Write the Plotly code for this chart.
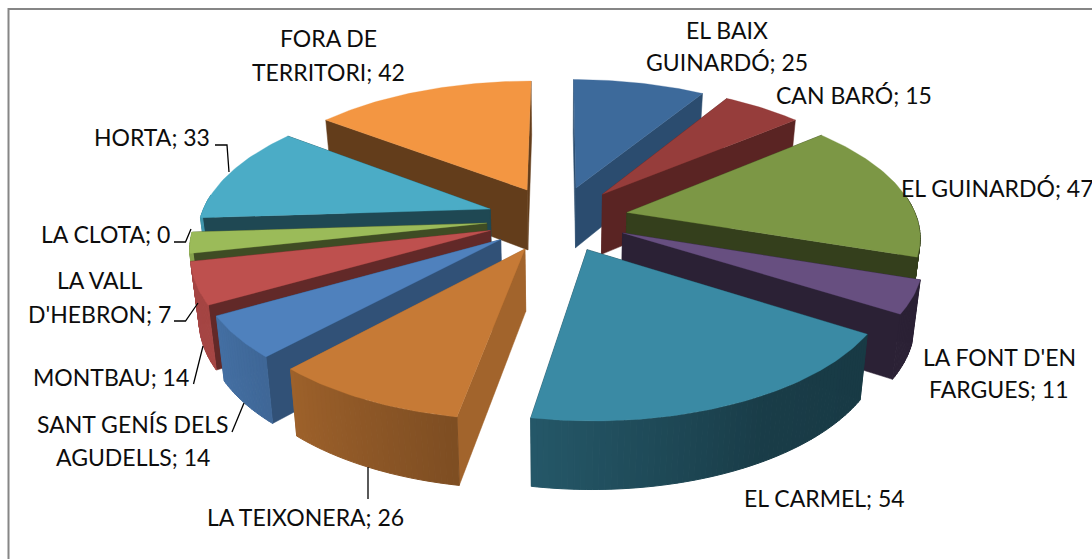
import numpy as np
import plotly.graph_objects as go

# ---- data ----
categories = ["EL BAIX GUINARDÓ", "CAN BARÓ", "EL GUINARDÓ", "LA FONT D'EN FARGUES", "EL CARMEL",
              "LA TEIXONERA", "SANT GENÍS DELS AGUDELLS", "MONTBAU", "LA VALL D'HEBRON",
              "LA CLOTA", "HORTA", "FORA DE TERRITORI"]
values = [25, 15, 47, 11, 54, 26, 14, 14, 7, 0, 33, 42]

# ---- style ----
top_colors = ["#3D6A9B", "#963D3B", "#7C9745", "#674F80", "#3A8AA4", "#C67A36",
              "#4F81BD", "#BE504E", "#9BBB59", "#8064A2", "#4BACC6", "#F39642"]
radial_shade = [0.72, 0.60, 0.42, 0.42, 0.42, 0.82, 0.63, 0.52, 0.41, 0.42, 0.42, 0.41]

# ---- projection settings ----
CX, CY, A, B, K = 557.5, 218.5, 290.0, 134.0, 0.155
EXPLODE = 0.245
LEAN = 0.977


def project(X, Y, bottom=False):
    w = 1 + K * Y
    sx = CX + A * X / w
    sy = CY - B * Y / w
    if bottom:
        sx = CX + (sx - CX) * LEAN
        sy = sy + (61.2 - 6.0 * Y)
    return sx, sy


def hex_shade(col, f):
    r, g, b = [int(col[i:i + 2], 16) for i in (1, 3, 5)]
    return f"rgb({int(r * f)},{int(g * f)},{int(b * f)})"


def arc_shade(theta):
    return float(np.interp(theta, [0, 100, 122, 150, 190, 222, 240, 270, 360],
                           [0.8, 0.42, 0.42, 0.44, 0.64, 0.8, 0.87, 0.88, 0.8]))


def poly(fig, xs, ys, color, lw=0.5):
    fig.add_trace(go.Scatter(x=list(xs) + [xs[0]], y=list(ys) + [ys[0]], mode="lines", fill="toself",
                             fillcolor=color, line=dict(color=color, width=lw),
                             hoverinfo="skip", showlegend=False))


fig = go.Figure()

total = sum(values)
edges = np.cumsum([0] + values) / total * 360.0
slices = []
for i, v in enumerate(values):
    if v == 0:
        continue
    t0, t1 = edges[i], edges[i + 1]
    m = np.radians((t0 + t1) / 2)
    ox, oy = EXPLODE * np.sin(m), EXPLODE * np.cos(m)
    slices.append((oy, i, t0, t1, ox))

for oy, i, t0, t1, ox in sorted(slices, key=lambda s: -s[0]):
    col = top_colors[i]
    th = np.radians(np.linspace(t0, t1, max(int(t1 - t0), 2) + 1))
    rx, ry = ox + np.sin(th), oy + np.cos(th)
    walls = []
    for a in (th[0], th[-1]):
        ex, ey = ox + np.sin(a), oy + np.cos(a)
        lx = np.linspace(ox, ex, 12)
        ly = np.linspace(oy, ey, 12)
        walls.append((np.mean(ly), lx, ly, hex_shade(col, radial_shade[i]), 0.5))
    for j in range(len(th) - 1):
        if np.cos(th[j]) > 0.1 and np.cos(th[j + 1]) > 0.1:
            continue  # back of the rim, hidden by the top face
        walls.append((np.mean(ry[j:j + 2]), rx[j:j + 2], ry[j:j + 2],
                      hex_shade(col, arc_shade(np.degrees(th[j]))), 1.0))
    for _, wx, wy, c, lw in sorted(walls, key=lambda w: -w[0]):
        x1, y1 = project(wx, wy)
        x2, y2 = project(wx, wy, bottom=True)
        poly(fig, np.r_[x1, x2[::-1]], np.r_[y1, y2[::-1]], c, lw)
    tx, ty = project(np.r_[ox, rx], np.r_[oy, ry])
    poly(fig, tx, ty, col, 0.3)

# ---- labels ----
label_lines = [
    ("EL BAIX", 727, 30), ("GUINARDÓ; 25", 727, 62), ("CAN BARÓ; 15", 854, 95),
    ("EL GUINARDÓ; 47", 997, 188), ("LA FONT D'EN", 999, 357), ("FARGUES; 11", 999, 389),
    ("EL CARMEL; 54", 824, 498), ("LA TEIXONERA; 26", 305, 517), ("SANT GENÍS DELS", 133, 424),
    ("AGUDELLS; 14", 133, 457), ("MONTBAU; 14", 111, 377), ("LA VALL", 99, 280),
    ("D'HEBRON; 7", 99, 314), ("LA CLOTA; 0", 105, 234), ("HORTA; 33", 152, 137),
    ("FORA DE", 328, 38), ("TERRITORI; 42", 328, 72),
]
for text, x, y in label_lines:
    fig.add_annotation(x=x, y=y, text=text, showarrow=False, xanchor="center", yanchor="middle",
                       font=dict(family="Lato, Carlito, sans-serif", size=23, color="#0d0d0d"))

leaders = [
    [(215, 145), (227, 145), (229, 172)],
    [(174, 242), (185.5, 242), (191, 229)],
    [(174, 321), (185.5, 321), (198, 303)],
    [(193.5, 384), (203, 346)],
    [(232, 432), (244, 403)],
    [(368, 467), (368, 499)],
]
for pts in leaders:
    fig.add_trace(go.Scatter(x=[p[0] for p in pts], y=[p[1] for p in pts], mode="lines",
                             line=dict(color="#000000", width=1.3), hoverinfo="skip", showlegend=False))

fig.add_shape(type="rect", x0=8.5, y0=9, x1=1300, y1=800, line=dict(color="#868686", width=2),
              fillcolor="rgba(0,0,0,0)", layer="below")

fig.update_layout(
    width=1092, height=559, margin=dict(l=0, r=0, t=0, b=0),
    paper_bgcolor="white", plot_bgcolor="white", showlegend=False,
    xaxis=dict(range=[0, 1092], visible=False, fixedrange=True),
    yaxis=dict(range=[559, 0], visible=False, fixedrange=True),
)
fig.write_html("out.html", config={"displayModeBar": False},
               post_script="document.body.style.margin='0';document.body.style.overflow='hidden';")
